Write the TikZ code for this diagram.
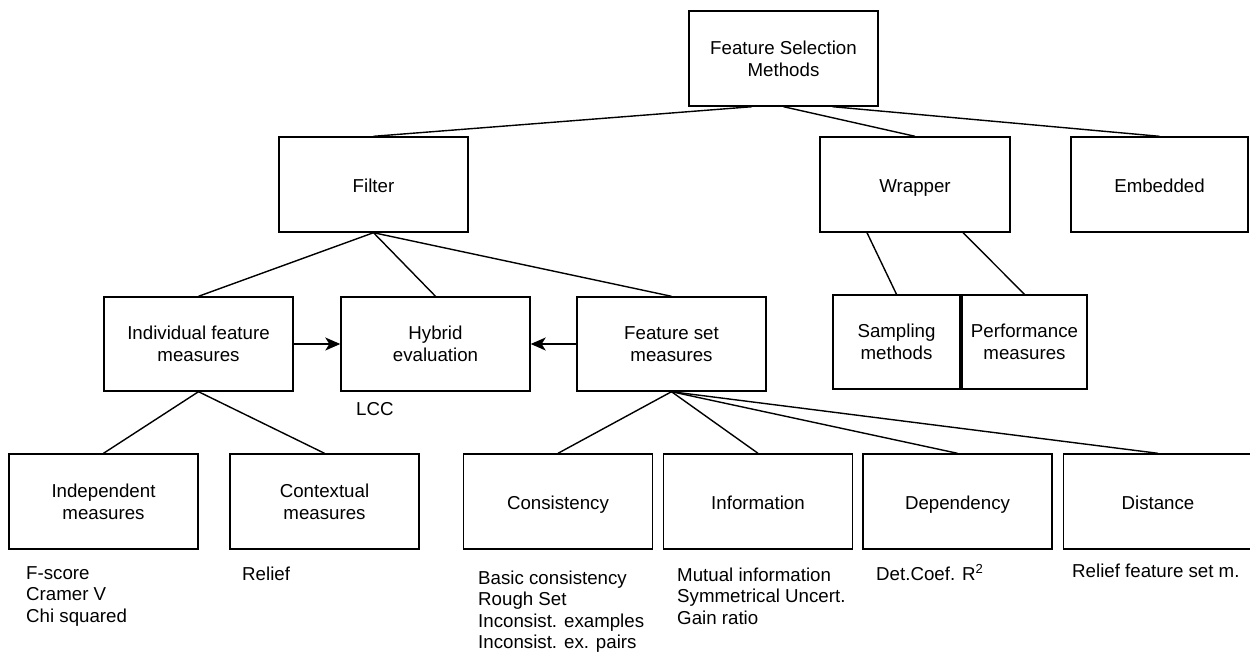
\documentclass[tikz,border=0pt]{standalone}
\usepackage{fontspec}
\setmainfont{Liberation Sans}
\usetikzlibrary{arrows.meta}

\begin{document}
\begin{tikzpicture}[
        x=1pt, y=-1pt, % ось y направлена вниз
        every node/.style = {font=\fontsize{18.7}{22}\selectfont},
        cell/.style = {draw, rectangle, line width=1.4pt, minimum width=189pt, minimum height=95pt, align=center, inner sep=2pt}, % блоки
        single/.style = {text height=20pt, text depth=4pt}, % одна строка в блоке
        note/.style = {anchor=north west, inner sep=0pt, align=left, font=\fontsize{18.7}{21.5}\selectfont}, % подписи под блоками
        branch/.style = {draw, line width=1.4pt}, % связи
        arr/.style = {branch, -{Stealth[length=15pt, width=13pt, inset=4pt]}},
    ]
    \useasboundingbox (0,0) rectangle (1250,651);

    % верхний уровень
    \node[cell] (fsm) at (783.5,58.5) {Feature Selection\\Methods};
    \node[cell, single] (filter) at (373.5,184.5) {Filter};
    \node[cell, single, minimum width=190pt] (wrapper) at (915,184.5) {Wrapper};
    \node[cell, single, minimum width=177pt] (embedded) at (1159.5,184.5) {Embedded};

    % второй уровень
    \node[cell, minimum height=94pt] (indiv) at (198.5,344) {Individual feature\\measures};
    \node[cell, minimum height=94pt] (hybrid) at (435.5,344) {Hybrid\\evaluation};
    \node[cell, minimum height=94pt] (fset) at (671.5,344) {Feature set\\measures};
    \node[cell, minimum width=127pt, minimum height=94pt] (sampling) at (896.5,342) {Sampling\\methods};
    \node[cell, minimum width=125pt, minimum height=94pt] (perf) at (1024.5,342) {Performance\\measures};

    % нижний уровень
    \node[cell] (indep) at (103.5,501.5) {Independent\\measures};
    \node[cell] (context) at (324.5,501.5) {Contextual\\measures};
    \node[cell, single] (consist) at (558,501.5) {Consistency};
    \node[cell, single] (inform) at (758,501.5) {Information};
    \node[cell, single] (depend) at (957.5,501.5) {Dependency};
    \node[cell, single] (dist) at (1158,501.5) {Distance};

    % подписи
    \node[note] (lcc) at (356,402.3) {LCC};
    \node[note] (indepnote) at (26,566.3) {F-score\\Cramer V\\Chi squared};
    \node[note] (contextnote) at (242,566.3) {Relief};
    \node[note] (consistnote) at (478,570.3) {Basic consistency\\Rough Set\\Inconsist. examples\\Inconsist. ex. pairs};
    \node[note] (informnote) at (677,567.3) {Mutual information\\Symmetrical Uncert.\\Gain ratio};
    \node[note, anchor=base west] (dependnote) at (876,580) {Det.Coef. R\textsuperscript{2}};
    \node[note] (distnote) at (1072,563.3) {Relief feature set m.};

    % связи
    \draw[branch] ([xshift=-31.5pt]fsm.south) -- (filter.north);
    \draw[branch] (fsm.south) -- (wrapper.north);
    \draw[branch] ([xshift=49pt]fsm.south) -- (embedded.north);
    \draw[branch] (filter.south) -- (indiv.north);
    \draw[branch] (filter.south) -- (hybrid.north);
    \draw[branch] (filter.south) -- (fset.north);
    \draw[branch] ([xshift=-48pt]wrapper.south) -- (sampling.north);
    \draw[branch] ([xshift=48pt]wrapper.south) -- (perf.north);
    \draw[branch] (indiv.south) -- (indep.north);
    \draw[branch] (indiv.south) -- (context.north);
    \draw[branch] (fset.south) -- (consist.north);
    \draw[branch] (fset.south) -- (inform.north);
    \draw[branch] (fset.south) -- (depend.north);
    \draw[branch] (fset.south) -- (dist.north);
    \draw[arr] (indiv.east) -- (hybrid.west);
    \draw[arr] (fset.west) -- (hybrid.east);

\end{tikzpicture}
\end{document}
